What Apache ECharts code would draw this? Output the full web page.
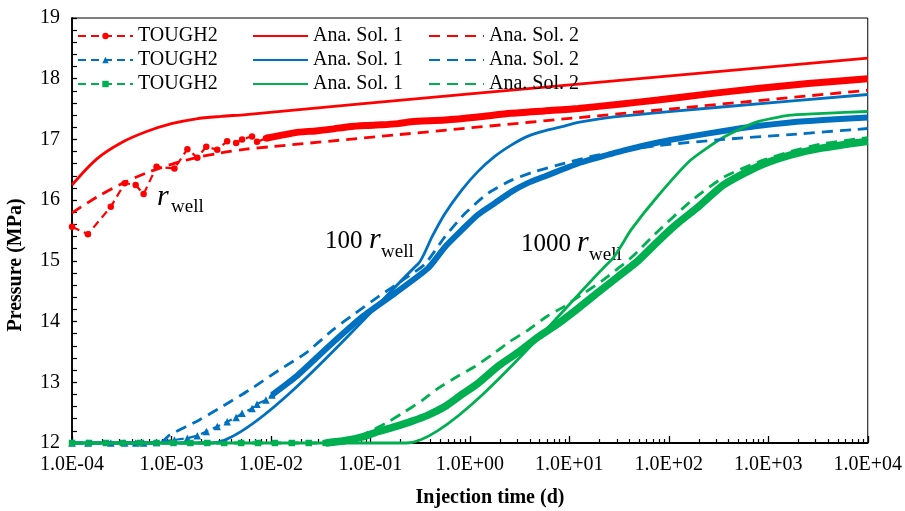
<!DOCTYPE html>
<html><head><meta charset="utf-8">
<script src="https://cdn.jsdelivr.net/npm/echarts@6/dist/echarts.min.js"></script>
<style>html,body{margin:0;padding:0;background:#fff}#c{width:905px;height:511px}</style>
</head><body><div id="c"></div>
<script>
// ---- Data (time given as log10 of days, pressure in MPa) ----
// r_well (red)
const redT2SparseLogT = [-4.0, -3.84, -3.61, -3.47, -3.36, -3.28, -3.15, -2.97, -2.84, -2.74, -2.65, -2.54, -2.44, -2.35, -2.29, -2.19, -2.14, -2.05];
const redT2SparseP    = [15.56, 15.44, 15.89, 16.28, 16.25, 16.10, 16.55, 16.52, 16.84, 16.70, 16.88, 16.83, 16.97, 16.94, 17.00, 17.05, 16.96, 17.02];
const redT2DenseLogT  = [-2.05, -1.89, -1.72, -1.55, -1.39, -1.22, -1.05, -0.89, -0.72, -0.59, -0.25, 0.08, 0.41, 0.75, 1.09, 1.5, 1.89, 2.4, 2.89, 3.4, 4.0];
const redT2DenseP     = [17.02, 17.07, 17.12, 17.14, 17.17, 17.21, 17.23, 17.24, 17.26, 17.29, 17.32, 17.37, 17.43, 17.47, 17.51, 17.58, 17.65, 17.75, 17.84, 17.92, 18.0];
const redSol1LogT = [-4.0, -3.75, -3.5, -3.25, -3.0, -2.75, -2.5, -2.25, 0.0, 4.0];
const redSol1P    = [16.25, 16.68, 16.95, 17.13, 17.26, 17.34, 17.38, 17.41, 17.75, 18.34];
const redSol2LogT = [-4.0, -3.75, -3.5, -3.25, -3.0, -2.75, -2.5, -2.25, -2.0, 4.0];
const redSol2P    = [15.79, 16.05, 16.27, 16.45, 16.59, 16.70, 16.78, 16.84, 16.88, 17.81];

// 100 r_well (blue)
const blueT2SparseLogT = [-4.0, -3.84, -3.61, -3.47, -3.36, -3.28, -3.15, -2.97, -2.84, -2.74, -2.65, -2.54, -2.44, -2.35, -2.29, -2.19, -2.14, -2.05, -1.99];
const blueT2SparseP    = [12.0, 12.0, 12.0, 12.0, 12.0, 12.0, 12.01, 12.05, 12.08, 12.12, 12.19, 12.27, 12.35, 12.42, 12.49, 12.57, 12.64, 12.71, 12.79];
const blueT2DenseLogT  = [-1.99, -1.75, -1.42, -1.08, -0.75, -0.42, -0.25, -0.08, 0.08, 0.25, 0.42, 0.58, 0.75, 0.92, 1.08, 1.22, 1.55, 1.89, 2.22, 2.55, 2.89, 3.22, 3.55, 4.0];
const blueT2DenseP     = [12.79, 13.09, 13.59, 14.08, 14.47, 14.88, 15.23, 15.51, 15.76, 15.95, 16.14, 16.28, 16.39, 16.50, 16.60, 16.67, 16.82, 16.95, 17.05, 17.14, 17.22, 17.28, 17.32, 17.36];
const blueSol1LogT = [-4.0, -2.6, -0.52, -0.38, -0.25, -0.08, 0.08, 0.25, 0.42, 0.58, 0.75, 0.95, 1.09, 1.45, 2.5, 4.0];
const blueSol1P    = [12.0, 12.0, 14.95, 15.40, 15.78, 16.17, 16.47, 16.72, 16.91, 17.05, 17.14, 17.22, 17.28, 17.37, 17.53, 17.74];
const blueSol2LogT = [-4.0, -3.12, -3.02, -2.72, -2.49, -2.22, -1.92, -1.65, -1.38, -1.15, -0.92, -0.65, -0.45, -0.25, -0.05, 0.18, 0.42, 0.65, 0.89, 1.22, 1.55, 1.89, 2.55, 3.22, 4.0];
const blueSol2P    = [12.0, 12.0, 12.13, 12.38, 12.60, 12.87, 13.20, 13.48, 13.86, 14.14, 14.41, 14.71, 14.95, 15.40, 15.78, 16.11, 16.33, 16.47, 16.58, 16.72, 16.82, 16.90, 17.00, 17.08, 17.18];

// 1000 r_well (green)
const greenT2SparseLogT = [-4.0, -3.83, -3.66, -3.49, -3.32, -3.15, -2.98, -2.81, -2.64, -2.47, -2.30, -2.13, -1.96, -1.79, -1.62, -1.45];
const greenT2SparseP    = [12.0, 12.0, 12.0, 12.0, 12.0, 12.0, 12.0, 12.0, 12.0, 12.0, 12.0, 12.0, 12.0, 12.0, 12.0, 12.0];
const greenT2DenseLogT  = [-1.45, -1.25, -1.08, -0.92, -0.75, -0.58, -0.42, -0.25, -0.08, 0.08, 0.28, 0.49, 0.69, 0.89, 1.09, 1.28, 1.49, 1.69, 1.89, 2.09, 2.29, 2.55, 2.89, 3.22, 3.55, 4.0];
const greenT2DenseP     = [12.0, 12.04, 12.10, 12.19, 12.27, 12.36, 12.46, 12.60, 12.80, 12.98, 13.26, 13.50, 13.75, 13.97, 14.22, 14.47, 14.74, 15.00, 15.32, 15.62, 15.88, 16.25, 16.55, 16.74, 16.86, 16.97];
const greenSol1LogT = [-4.0, -0.64, 1.42, 1.62, 1.886, 2.22, 2.554, 2.887, 3.22, 3.555, 4.0];
const greenSol1P    = [12.0, 12.0, 15.01, 15.51, 16.06, 16.66, 17.04, 17.29, 17.40, 17.43, 17.46];
const greenSol2LogT = [-4.0, -1.27, -1.02, -0.85, -0.68, -0.48, -0.32, -0.13, 0.05, 0.22, 0.40, 0.585, 0.77, 0.95, 1.12, 1.32, 1.62, 1.886, 2.22, 2.554, 2.887, 3.22, 3.555, 4.0];
const greenSol2P    = [12.0, 12.0, 12.18, 12.32, 12.49, 12.70, 12.90, 13.09, 13.26, 13.45, 13.67, 13.86, 14.08, 14.25, 14.44, 14.66, 15.05, 15.48, 15.98, 16.38, 16.62, 16.80, 16.93, 17.03];

// Axis ticks
const xMajorExps = [-4, -3, -2, -1, 0, 1, 2, 3, 4];
const yTicks = [12, 13, 14, 15, 16, 17, 18, 19];

// ---- Chart ----
const FONT = '"Liberation Serif","Times New Roman",serif';
const RED = '#FF0000', BLUE = '#0070C0', GREEN = '#00B050';
const pts = (logT, p) => logT.map((e, i) => [Math.pow(10, e), p[i]]);
const xMajor = xMajorExps.map(e => Math.pow(10, e));
const xMinor = [];
xMajorExps.slice(0, -1).forEach(e => { for (let m = 2; m <= 9; m++) xMinor.push(m * Math.pow(10, e)); });
const fmtX = v => { const e = Math.round(Math.log10(v)); return '1.0E' + (e < 0 ? '-' : '+') + String(Math.abs(e)).padStart(2, '0'); };

function sparse(name, color, sym, size, logT, p) {
  return { name, type: 'line', data: pts(logT, p), symbol: sym, symbolSize: size, showSymbol: true,
    clip: false, itemStyle: { color }, lineStyle: { color, width: 2.2, type: [8, 5] }, z: 2 };
}
function dense(name, color, width, logT, p) {
  return { name, type: 'line', data: pts(logT, p), symbol: 'none', clip: false, smooth: 0.2,
    lineStyle: { color, width, type: 'solid' }, z: 2 };
}
function sol(name, color, dashed, logT, p, smooth) {
  return { name, type: 'line', data: pts(logT, p), symbol: 'none', clip: false, smooth: smooth || 0,
    itemStyle: { color }, lineStyle: { color, width: 2.8, type: dashed ? [11, 7] : 'solid' }, z: 3 };
}

const series = [
  sparse('TOUGH2 (r)', RED, 'circle', 6.5, redT2SparseLogT, redT2SparseP),
  dense('TOUGH2 dense (r)', RED, 7, redT2DenseLogT, redT2DenseP),
  sparse('TOUGH2 (100r)', BLUE, 'triangle', 7.5, blueT2SparseLogT, blueT2SparseP),
  dense('TOUGH2 dense (100r)', BLUE, 6, blueT2DenseLogT, blueT2DenseP),
  sparse('TOUGH2 (1000r)', GREEN, 'rect', 6.5, greenT2SparseLogT, greenT2SparseP),
  dense('TOUGH2 dense (1000r)', GREEN, 7.5, greenT2DenseLogT, greenT2DenseP),
  sol('Ana. Sol. 1 (r)', RED, false, redSol1LogT, redSol1P, 0.3),
  sol('Ana. Sol. 1 (100r)', BLUE, false, blueSol1LogT, blueSol1P, 0.2),
  sol('Ana. Sol. 1 (1000r)', GREEN, false, greenSol1LogT, greenSol1P, 0.2),
  sol('Ana. Sol. 2 (r)', RED, true, redSol2LogT, redSol2P, 0.3),
  sol('Ana. Sol. 2 (100r)', BLUE, true, blueSol2LogT, blueSol2P, 0.2),
  sol('Ana. Sol. 2 (1000r)', GREEN, true, greenSol2LogT, greenSol2P, 0.2)
];

const legendBase = { orient: 'vertical', top: 21, itemWidth: 55, itemHeight: 8, itemGap: 4, selectedMode: false,
  textStyle: { fontFamily: FONT, fontSize: 20, color: '#000', lineHeight: 20 },
  formatter: n => n.split(' (')[0] };
const noSym = names => names.map(name => ({ name, itemStyle: { opacity: 0, color: 'rgba(0,0,0,0)', borderWidth: 0 } }));

const txt = (x, y, text, size, extra) => ({ type: 'text', x, y,
  style: Object.assign({ text, fontFamily: FONT, fontSize: size, fill: '#000', align: 'left', verticalAlign: 'middle' }, extra || {}) });

const option = {
  animation: false,
  backgroundColor: '#fff',
  grid: { left: 72, right: 34, top: 18, bottom: 68, show: true, borderColor: '#000', borderWidth: 1, containLabel: false },
  xAxis: [
    { type: 'log', logBase: 10, min: 1e-4, max: 1e4,
      axisLine: { show: true, lineStyle: { color: '#000', width: 1.8 } },
      axisTick: { show: true, inside: true, length: 7, customValues: xMajor, lineStyle: { color: '#000', width: 1.3 } },
      axisLabel: { customValues: xMajor, formatter: fmtX, fontFamily: FONT, fontSize: 20, color: '#000', margin: 12 },
      splitLine: { show: false }, minorTick: { show: false } },
    { type: 'log', logBase: 10, min: 1e-4, max: 1e4, position: 'bottom', gridIndex: 0,
      axisLine: { show: false },
      axisTick: { show: true, inside: true, length: 4, customValues: xMinor, lineStyle: { color: '#000', width: 1.2 } },
      axisLabel: { show: false }, splitLine: { show: false } }
  ],
  yAxis: { type: 'value', min: 12, max: 19, interval: 1,
    axisLine: { show: true, lineStyle: { color: '#000', width: 1.8 } },
    axisTick: { show: true, inside: true, length: 5, lineStyle: { color: '#000', width: 1.3 } },
    minorTick: { show: true, splitNumber: 5, length: 5, lineStyle: { color: '#000', width: 1.2 } },
    axisLabel: { fontFamily: FONT, fontSize: 20, color: '#000', margin: 12, customValues: yTicks },
    splitLine: { show: false } },
  legend: [
    Object.assign({}, legendBase, { left: 72, data: ['TOUGH2 (r)', 'TOUGH2 (100r)', 'TOUGH2 (1000r)'] }),
    Object.assign({}, legendBase, { left: 247, data: noSym(['Ana. Sol. 1 (r)', 'Ana. Sol. 1 (100r)', 'Ana. Sol. 1 (1000r)']) }),
    Object.assign({}, legendBase, { left: 423, data: noSym(['Ana. Sol. 2 (r)', 'Ana. Sol. 2 (100r)', 'Ana. Sol. 2 (1000r)']) })
  ],
  graphic: [
    txt(490, 498, 'Injection time (d)', 20, { align: 'center', fontWeight: 'bold' }),
    { type: 'text', x: 16, y: 265, rotation: Math.PI / 2,
      style: { text: 'Pressure (MPa)', fontFamily: FONT, fontSize: 20, fontWeight: 'bold', fill: '#000', align: 'center', verticalAlign: 'middle' } },
    txt(157, 197, 'r', 30, { fontStyle: 'italic' }),
    txt(171, 207, 'well', 19),
    txt(325, 241, '100', 25),
    txt(369, 240, 'r', 30, { fontStyle: 'italic' }),
    txt(381, 252, 'well', 19),
    txt(521, 244, '1000', 25),
    txt(577, 243, 'r', 30, { fontStyle: 'italic' }),
    txt(589, 255, 'well', 19)
  ],
  series
};

echarts.init(document.getElementById('c'), null, { renderer: 'canvas' }).setOption(option);
</script>
</body></html>
